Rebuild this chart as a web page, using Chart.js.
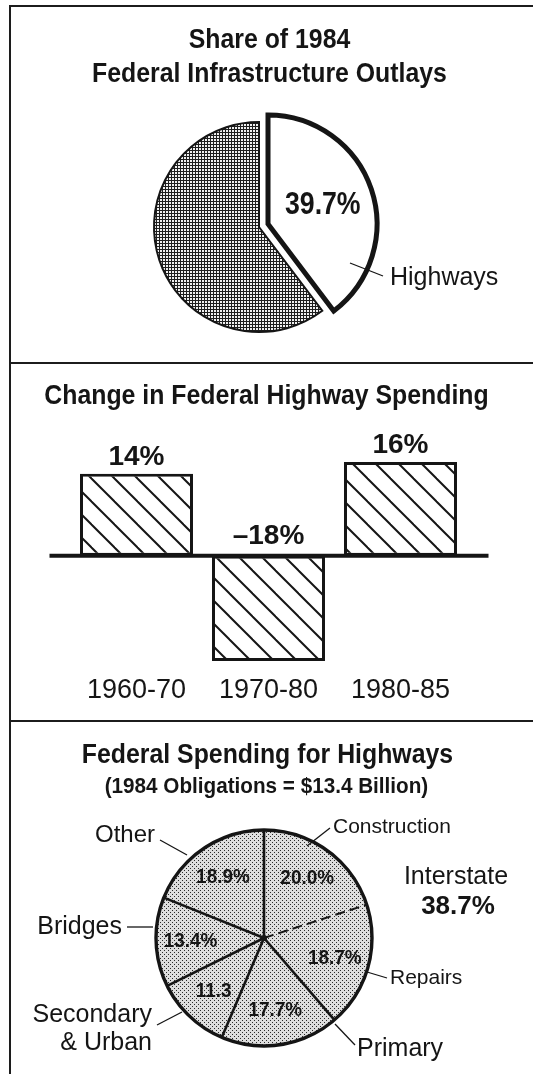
<!DOCTYPE html>
<html>
<head>
<meta charset="utf-8">
<script src="https://cdn.jsdelivr.net/npm/chart.js@4.4.1/dist/chart.umd.min.js"></script>
<style>
  html, body { margin: 0; padding: 0; background: #fff; }
  body { width: 533px; height: 1074px; position: relative; overflow: hidden;
         font-family: "Liberation Sans", Arial, Helvetica, sans-serif; color: #151515; }
  .rule { position: absolute; background: #1c1c1c; }
  .title { position: absolute; left: 0; width: 533px; text-align: center; font-weight: bold;
           font-size: 27px; line-height: 34px; white-space: nowrap;
           transform: scaleX(0.92); transform-origin: 50% 50%; }
  .sub { font-size: 22px; line-height: 32px; transform: scaleX(0.94); }
  canvas { position: absolute; left: 0; }
</style>
</head>
<body>
<div class="rule" style="left:9px; top:5px; width:2px; height:1069px"></div>
<div class="rule" style="left:9px; top:5px; width:524px; height:2px"></div>
<div class="rule" style="left:9px; top:362px; width:524px; height:2px"></div>
<div class="rule" style="left:9px; top:720px; width:524px; height:2px"></div>

<canvas id="share" width="533" height="362" style="top:0"></canvas>
<canvas id="change" width="533" height="356" style="top:364px"></canvas>
<canvas id="uses" width="533" height="352" style="top:722px"></canvas>

<div class="title" style="top:22px; left:3px">Share of 1984<br>Federal Infrastructure Outlays</div>
<div class="title" style="top:378px">Change in Federal Highway Spending</div>
<div class="title" style="top:737px; left:1px">Federal Spending for Highways</div>
<div class="title sub" style="top:770px">(1984 Obligations = $13.4 Billion)</div>

<script>
// top pie: share of infrastructure outlays
const shareLabels = ['Highways', 'Other infrastructure'];
const shareValues = [39.7, 60.3];

// bar chart: change in federal highway spending
const periods = ['1960-70', '1970-80', '1980-85'];
const spendingChange = [14, -18, 16];

// bottom pie: federal spending for highways, 1984
const roadUses = ['Construction', 'Repairs', 'Primary', 'Secondary & Urban', 'Bridges', 'Other'];
const roadShares = [20.0, 18.7, 17.7, 11.3, 13.4, 18.9];
const interstateParts = ['Construction', 'Repairs'];

const INK = '#151515';
const FONT = '"Liberation Sans", Arial, Helvetica, sans-serif';

Chart.defaults.font.family = FONT;
Chart.defaults.color = INK;

// little bitmap tiles for the old print screens
const makeTile = (size, draw) => {
    const c = document.createElement('canvas');
    c.width = c.height = size;
    draw(c.getContext('2d'), size);
    return c;
};

const darkScreen = makeTile(3, (g) => {
    g.fillStyle = '#1e1e1e';
    g.fillRect(0, 0, 3, 3);
    g.fillStyle = '#f0f0f0';
    g.fillRect(1, 1, 2, 2);
});

const lightScreen = makeTile(4, (g) => {
    g.fillStyle = '#dedede';
    g.fillRect(0, 0, 4, 4);
    g.fillStyle = '#2a2a2a';
    g.fillRect(0, 0, 1, 1);
    g.fillRect(2, 2, 1, 1);
});

const hatch = makeTile(23, (g, s) => {
    g.fillStyle = '#fff';
    g.fillRect(0, 0, s, s);
    g.strokeStyle = INK;
    g.lineWidth = 2;
    [-1, 0, 1].forEach(k => {
        g.beginPath();
        g.moveTo(-s, -s + k * s);
        g.lineTo(2 * s, 2 * s + k * s);
        g.stroke();
    });
});

const patternFor = (id, tile) => document.getElementById(id).getContext('2d').createPattern(tile, 'repeat');

// pull one slice out of the pie (and make it a bit larger, like the print)
const explode = (index, distance, grow) => ({
    id: 'explode',
    afterUpdate(chart) {
        const arc = chart.getDatasetMeta(0).data[index];
        const mid = (arc.startAngle + arc.endAngle) / 2;
        arc.x += Math.cos(mid) * distance;
        arc.y += Math.sin(mid) * distance;
        arc.outerRadius += grow;
    }
});

// value text inside each slice (squeeze < 1 narrows the type)
const sliceValues = (texts, font, ratio, squeeze = 1) => ({
    id: 'sliceValues',
    afterDatasetsDraw(chart) {
        const {ctx} = chart;
        chart.getDatasetMeta(0).data.forEach((arc, i) => {
            if (!texts[i]) return;
            const mid = (arc.startAngle + arc.endAngle) / 2;
            const r = arc.outerRadius * ratio;
            ctx.save();
            ctx.fillStyle = INK;
            ctx.font = font;
            ctx.textAlign = 'center';
            ctx.textBaseline = 'middle';
            ctx.translate(arc.x + Math.cos(mid) * r, arc.y + Math.sin(mid) * r);
            ctx.scale(squeeze, 1);
            ctx.fillText(texts[i], 0, 0);
            ctx.restore();
        });
    }
});

// outside labels with leader lines, placed relative to the pie centre
const callouts = (items) => ({
    id: 'callouts',
    afterDatasetsDraw(chart) {
        const {ctx, chartArea} = chart;
        const cx = (chartArea.left + chartArea.right) / 2;
        const cy = (chartArea.top + chartArea.bottom) / 2;
        ctx.save();
        ctx.fillStyle = INK;
        ctx.strokeStyle = INK;
        ctx.textBaseline = 'middle';
        items.forEach(item => {
            if (item.leader) {
                ctx.lineWidth = 1.3;
                ctx.beginPath();
                ctx.moveTo(cx + item.leader[0], cy + item.leader[1]);
                ctx.lineTo(cx + item.leader[2], cy + item.leader[3]);
                ctx.stroke();
            }
            ctx.font = item.font;
            ctx.textAlign = item.align || 'left';
            item.lines.forEach((line, k) => {
                ctx.fillText(line, cx + item.at[0], cy + item.at[1] + k * (item.lineHeight || 0));
            });
        });
        ctx.restore();
    }
});

// slice edges and rim drawn by hand so one edge can be dashed
const pieOutline = (dashedEdge) => ({
    id: 'pieOutline',
    afterDatasetsDraw(chart) {
        const {ctx} = chart;
        const arcs = chart.getDatasetMeta(0).data;
        const {x, y, outerRadius} = arcs[0];
        ctx.save();
        ctx.strokeStyle = INK;
        ctx.fillStyle = INK;
        arcs.forEach((arc, i) => {
            ctx.lineWidth = i === dashedEdge ? 2 : 2.6;
            ctx.setLineDash(i === dashedEdge ? [10, 5] : []);
            ctx.beginPath();
            ctx.moveTo(x, y);
            ctx.lineTo(x + Math.cos(arc.startAngle) * outerRadius, y + Math.sin(arc.startAngle) * outerRadius);
            ctx.stroke();
        });
        ctx.setLineDash([]);
        ctx.lineWidth = 3.4;
        ctx.beginPath();
        ctx.arc(x, y, outerRadius, 0, Math.PI * 2);
        ctx.stroke();
        ctx.beginPath();
        ctx.arc(x, y, 3, 0, Math.PI * 2);
        ctx.fill();
        ctx.restore();
    }
});

const noChrome = {
    legend: { display: false },
    tooltip: { enabled: false }
};

// --- Share of 1984 Federal Infrastructure Outlays ---
new Chart(document.getElementById('share'), {
    type: 'pie',
    data: {
        labels: shareLabels,
        datasets: [{
            data: shareValues,
            backgroundColor: ['#ffffff', patternFor('share', darkScreen)],
            borderColor: INK,
            borderWidth: [5, 2],
            borderJoinStyle: 'miter'
        }]
    },
    options: {
        responsive: false,
        animation: false,
        events: [],
        radius: 105,
        layout: { padding: { left: 149, right: 164, top: 117, bottom: 25 } },
        plugins: noChrome
    },
    plugins: [
        explode(0, 9.5, 4),
        sliceValues([shareValues[0].toFixed(1) + '%'], 'bold 31px ' + FONT, 0.53, 0.86),
        callouts([
            { lines: [shareLabels[0]], font: '25px ' + FONT, at: [131, 51], leader: [91, 36, 124, 49] }
        ])
    ]
});

// --- Change in Federal Highway Spending ---
const zeroLine = {
    id: 'zeroLine',
    afterDatasetsDraw(chart) {
        const {ctx, chartArea} = chart;
        const y = chart.scales.y.getPixelForValue(0);
        ctx.save();
        ctx.strokeStyle = INK;
        ctx.lineWidth = 4;
        ctx.beginPath();
        ctx.moveTo(chartArea.left - 21, y);
        ctx.lineTo(chartArea.right + 22, y);
        ctx.stroke();
        ctx.restore();
    }
};

const barValues = {
    id: 'barValues',
    afterDatasetsDraw(chart) {
        const {ctx} = chart;
        ctx.save();
        ctx.fillStyle = INK;
        ctx.font = 'bold 28px ' + FONT;
        ctx.textAlign = 'center';
        ctx.textBaseline = 'alphabetic';
        chart.getDatasetMeta(0).data.forEach((bar, i) => {
            const v = spendingChange[i];
            const text = (v < 0 ? '\u2013' + Math.abs(v) : v) + '%';
            const top = Math.min(bar.y, bar.base);
            ctx.fillText(text, bar.x, top - (v < 0 ? 12 : 9));
        });
        ctx.restore();
    }
};

new Chart(document.getElementById('change'), {
    type: 'bar',
    data: {
        labels: periods,
        datasets: [{
            data: spendingChange,
            backgroundColor: patternFor('change', hatch),
            borderColor: INK,
            borderWidth: 3,
            borderSkipped: false,
            categoryPercentage: 1,
            barPercentage: 0.856
        }]
    },
    options: {
        responsive: false,
        animation: false,
        events: [],
        layout: { padding: { left: 70.5, right: 66.5, top: 98, bottom: 0.6 } },
        scales: {
            x: {
                grid: { display: false, drawTicks: false },
                border: { display: false },
                ticks: { font: { size: 27 }, color: INK, padding: 13 }
            },
            y: { display: false, min: -18, max: 16 }
        },
        plugins: noChrome
    },
    plugins: [zeroLine, barValues]
});

// --- Federal Spending for Highways ---
const interstateShare = interstateParts.reduce((s, name) => s + roadShares[roadUses.indexOf(name)], 0);
const shareTexts = roadShares.map((v, i) => v.toFixed(1) + (roadUses[i] === 'Secondary & Urban' ? '' : '%'));
const label = (name) => name.replace(' &', '\n&').split('\n');

new Chart(document.getElementById('uses'), {
    type: 'pie',
    data: {
        labels: roadUses,
        datasets: [{
            data: roadShares,
            backgroundColor: patternFor('uses', lightScreen),
            borderWidth: 0
        }]
    },
    options: {
        responsive: false,
        animation: false,
        events: [],
        radius: 108,
        layout: { padding: { left: 144, right: 149, top: 96, bottom: 16 } },
        plugins: noChrome
    },
    plugins: [
        pieOutline(roadUses.indexOf(interstateParts[1])),
        sliceValues(shareTexts, 'bold 21px ' + FONT, 0.68, 0.9),
        callouts([
            { lines: label(roadUses[0]), font: '21px ' + FONT, at: [69, -111], leader: [43, -92, 66, -110] },
            { lines: label(roadUses[1]), font: '21px ' + FONT, at: [126, 40], leader: [103, 34, 123, 40] },
            { lines: label(roadUses[2]), font: '25px ' + FONT, at: [93, 111], leader: [71, 86, 91, 107] },
            { lines: label(roadUses[3]), font: '25px ' + FONT, at: [-112, 77], lineHeight: 28, align: 'right', leader: [-82, 74, -107, 87] },
            { lines: label(roadUses[4]), font: '25px ' + FONT, at: [-142, -11], align: 'right', leader: [-111, -11, -137, -11] },
            { lines: label(roadUses[5]), font: '24px ' + FONT, at: [-109, -103], align: 'right', leader: [-77, -83, -104, -98] },
            { lines: ['Interstate'], font: '25px ' + FONT, at: [192, -61], align: 'center' },
            { lines: [interstateShare.toFixed(1) + '%'], font: 'bold 26px ' + FONT, at: [194, -31], align: 'center' }
        ])
    ]
});
</script>
</body>
</html>
